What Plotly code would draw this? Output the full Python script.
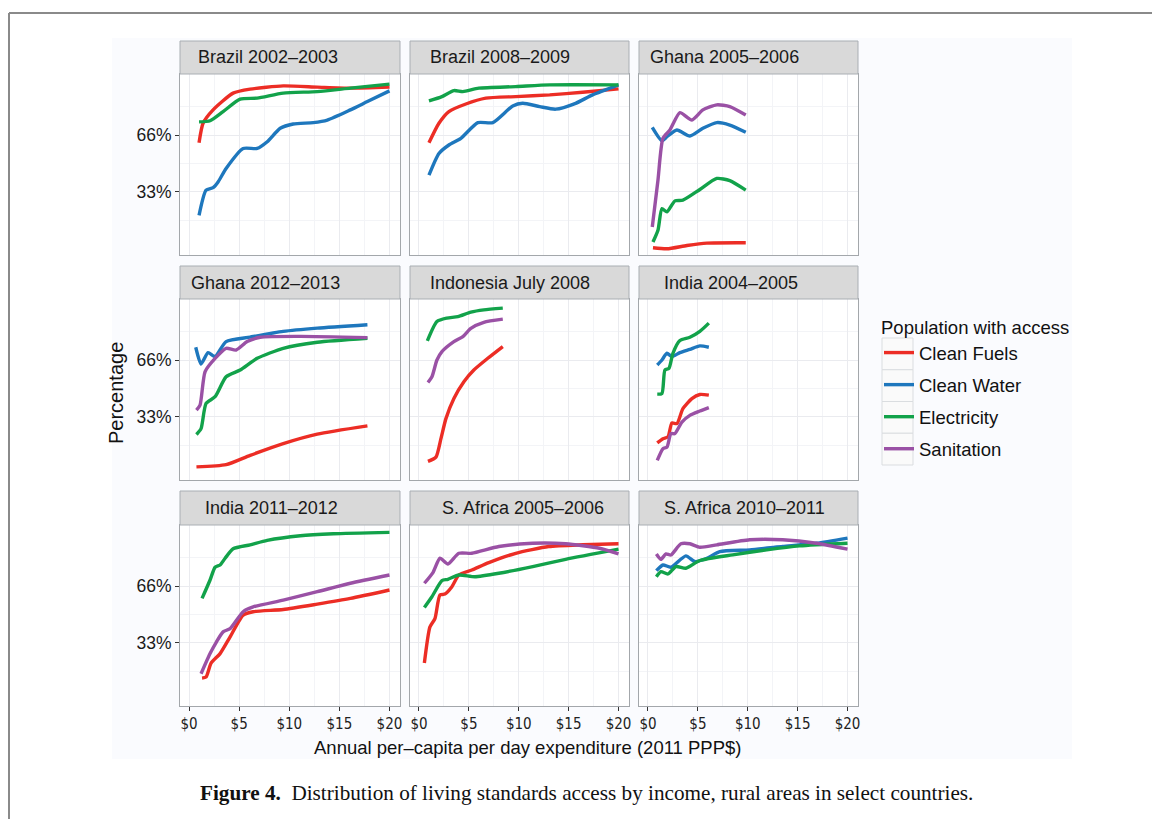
import plotly.graph_objects as go

W, H = 1152, 819

# ---------------- data ----------------
PANELS = ["Brazil 2002–2003", "Brazil 2008–2009", "Ghana 2005–2006",
          "Ghana 2012–2013", "Indonesia July 2008", "India 2004–2005",
          "India 2011–2012", "S. Africa 2005–2006", "S. Africa 2010–2011"]
SERIES = ["Clean Fuels", "Clean Water", "Electricity", "Sanitation"]
COLORS = ["#EC2D25", "#1E77BD", "#12A24A", "#9A51A5"]
X_TICKS = [0, 5, 10, 15, 20]
X_TICK_LABELS = ["$0", "$5", "$10", "$15", "$20"]
Y_TICKS = [33, 66]
Y_TICK_LABELS = ["33%", "66%"]

# Brazil 2002–2003
br02_fuels_x = [1.0, 1.4, 2.4, 4.4, 6.1, 9.4, 12.8, 16.1, 20]
br02_fuels_y = [61.5, 72.8, 80.6, 90.3, 92.6, 94.5, 93.8, 93.2, 93.8]
br02_water_x = [1.0, 1.7, 2.4, 2.9, 3.7, 5.4, 6.8, 7.8, 9.1, 10.4, 12.4, 13.8, 16.1, 17.8, 20]
br02_water_y = [19.4, 34, 35.5, 38.8, 46.6, 58.2, 58.2, 62.1, 69.9, 72.4, 73.2, 74.7, 80.6, 85.4, 91.6]
br02_elec_x = [1.0, 2.1, 3.4, 5.1, 6.8, 9.4, 12.8, 16.1, 20]
br02_elec_y = [73.6, 74.3, 79.6, 86.8, 87.4, 90.3, 91.2, 93.2, 95.5]

# Brazil 2008–2009
br08_fuels_x = [1.0, 2.0, 3.0, 4.7, 6.7, 9.7, 13.1, 16.4, 20]
br08_fuels_y = [61.5, 72.8, 79.6, 84, 87.4, 88.3, 89.3, 90.8, 92.8]
br08_water_x = [1.0, 2.0, 3.0, 4.2, 5.9, 7.4, 9.4, 10.4, 12.1, 13.7, 15.7, 17.4, 20]
br08_water_y = [42.7, 55.3, 60.2, 64.1, 73.2, 73.2, 82.9, 84.4, 82.5, 81, 84.4, 89.3, 95.1]
br08_elec_x = [1.0, 2.3, 3.5, 4.4, 6.0, 9.7, 13.1, 20]
br08_elec_y = [85.8, 88.3, 91.8, 91.2, 93.2, 94.1, 95.1, 95.1]

# Ghana 2005–2006
gh05_fuels_x = [0.5, 1.9, 3.9, 5.9, 9.8]
gh05_fuels_y = [0.6, 0.0, 1.9, 3.3, 3.5]
gh05_water_x = [0.43, 1.4, 1.9, 2.9, 4.2, 5.5, 6.9, 8.2, 9.8]
gh05_water_y = [70.5, 62.7, 65, 68.9, 65.4, 69.9, 73.2, 71.8, 67.6]
gh05_elec_x = [0.5, 1.0, 1.4, 1.9, 2.7, 3.5, 5.2, 6.9, 8.2, 9.8]
gh05_elec_y = [3.9, 10.7, 23.3, 21.4, 27.8, 28.2, 34.4, 40.8, 39.5, 34]
gh05_san_x = [0.43, 1.0, 1.5, 2.2, 3.2, 4.4, 5.5, 6.9, 8.2, 9.8]
gh05_san_y = [12.6, 39.8, 64.1, 68.9, 79, 74.7, 80.6, 83.5, 82.5, 77.6]

# Ghana 2012–2013
gh12_fuels_x = [0.74, 3.7, 6.1, 9.4, 12.8, 17.8]
gh12_fuels_y = [4, 5.3, 10.7, 17.5, 23, 27.8]
gh12_water_x = [0.67, 1.2, 1.9, 2.6, 3.7, 6.1, 9.4, 12.8, 17.8]
gh12_water_y = [73.4, 63.7, 70.3, 68, 76.7, 79.3, 82.6, 84.5, 86.5]
gh12_elec_x = [0.74, 1.2, 1.7, 2.6, 3.7, 5.1, 6.8, 9.4, 12.8, 17.8]
gh12_elec_y = [22.8, 26.2, 40.8, 44.7, 56.3, 60.2, 67, 72.8, 76.3, 78.6]
gh12_san_x = [0.74, 1.1, 1.6, 2.6, 3.7, 4.7, 5.8, 7.1, 11.1, 17.8]
gh12_san_y = [36.9, 39.8, 59.2, 66.9, 72.8, 71.8, 76.7, 79.2, 79.7, 79]

# Indonesia July 2008
id08_fuels_x = [0.9, 1.7, 2.2, 2.7, 3.5, 4.5, 5.5, 6.9, 8.4]
id08_fuels_y = [7.2, 9.7, 20.4, 32, 43.7, 53.4, 60.2, 67, 73.8]
id08_elec_x = [0.84, 1.8, 2.8, 3.9, 5.2, 6.5, 8.4]
id08_elec_y = [77.1, 88.3, 90.3, 91.2, 93.8, 95.1, 96.1]
id08_san_x = [0.9, 1.3, 1.8, 2.3, 3.5, 4.4, 5.2, 6.5, 8.4]
id08_san_y = [53, 56.3, 66, 70.9, 76.7, 79.6, 84.4, 87.9, 89.7]

# India 2004–2005
in04_fuels_x = [0.93, 1.5, 2.0, 2.4, 2.9, 3.5, 4.4, 5.2, 6.1]
in04_fuels_y = [17.9, 20.4, 21.4, 29.5, 29.1, 37.8, 43.6, 46, 45.6]
in04_water_x = [0.93, 1.4, 1.9, 2.4, 3.2, 4.2, 5.2, 6.1]
in04_water_y = [63.1, 66, 69.9, 68, 70.3, 72.2, 74.2, 73.4]
in04_elec_x = [0.93, 1.4, 1.7, 2.1, 2.5, 3.2, 4.2, 5.2, 6.1]
in04_elec_y = [46.2, 46.6, 60.2, 61.1, 69.9, 77.3, 79.2, 82.6, 87.4]
in04_san_x = [0.93, 1.5, 1.9, 2.3, 2.7, 3.4, 4.2, 5.2, 6.1]
in04_san_y = [7.8, 14.6, 15.5, 23.3, 23.3, 30, 33.9, 36.4, 38.4]

# India 2011–2012
in11_fuels_x = [1.3, 1.7, 2.2, 3.1, 4.1, 5.4, 6.4, 9.4, 12.8, 16.1, 20]
in11_fuels_y = [12.6, 13.2, 21.3, 26.8, 36.5, 49.1, 51.1, 52.4, 55.5, 58.8, 63.7]
in11_elec_x = [1.3, 2.1, 2.6, 3.1, 3.6, 4.4, 6.1, 7.8, 11.1, 14.4, 20]
in11_elec_y = [58.8, 69.5, 76.9, 78.2, 82.1, 87.6, 89.9, 92.5, 95.2, 96.3, 97.1]
in11_san_x = [1.2, 2.1, 2.7, 3.4, 4.1, 5.4, 6.4, 9.4, 12.8, 16.1, 20]
in11_san_y = [15.1, 26.8, 33.2, 39.4, 41.3, 51.1, 53.9, 57.8, 62.7, 67.6, 72.4]

# S. Africa 2005–2006
sa05_fuels_x = [0.54, 1.1, 1.6, 2.1, 2.6, 3.3, 4.0, 5.3, 7.0, 9.7, 13.0, 16.4, 20]
sa05_fuels_y = [21.3, 42.3, 47.1, 60.8, 61.3, 65.6, 72.4, 75.3, 79.6, 85, 88.9, 89.9, 90.5]
sa05_elec_x = [0.54, 1.3, 2.3, 2.9, 4.0, 5.6, 8.0, 11.4, 14.7, 20]
sa05_elec_y = [53.6, 59.8, 69.1, 69.9, 72.4, 71.4, 73.4, 77.3, 81.5, 87.4]
sa05_san_x = [0.54, 1.4, 2.1, 2.9, 4.0, 5.3, 8.0, 11.4, 14.7, 18.1, 20]
sa05_san_y = [67.6, 73.8, 82.1, 78.8, 85, 85, 88.9, 90.8, 90.5, 87.9, 84.6]

# S. Africa 2010–2011
sa10_water_x = [0.84, 1.5, 2.3, 3.8, 4.7, 5.9, 7.2, 10.2, 13.5, 16.9, 20]
sa10_water_y = [74.9, 78.2, 76.9, 83.5, 80.2, 82.1, 86, 87, 88.9, 90.8, 93.8]
sa10_elec_x = [0.84, 1.3, 2.0, 2.8, 3.8, 5.2, 8.5, 11.9, 15.2, 20]
sa10_elec_y = [71.4, 74.3, 73, 77.3, 76.3, 80.8, 84.1, 87, 89.3, 90.8]
sa10_san_x = [0.84, 1.3, 1.8, 2.3, 3.3, 4.2, 5.2, 6.9, 10.2, 13.5, 16.9, 20]
sa10_san_y = [84.6, 81.5, 84.6, 84, 90.5, 90.5, 88.5, 89.9, 92.8, 92.8, 90.8, 87.4]

# panel index -> list of (series index, x, y)
PANEL_DATA = [
    [(0, br02_fuels_x, br02_fuels_y), (1, br02_water_x, br02_water_y), (2, br02_elec_x, br02_elec_y)],
    [(0, br08_fuels_x, br08_fuels_y), (1, br08_water_x, br08_water_y), (2, br08_elec_x, br08_elec_y)],
    [(0, gh05_fuels_x, gh05_fuels_y), (1, gh05_water_x, gh05_water_y), (2, gh05_elec_x, gh05_elec_y),
     (3, gh05_san_x, gh05_san_y)],
    [(0, gh12_fuels_x, gh12_fuels_y), (1, gh12_water_x, gh12_water_y), (2, gh12_elec_x, gh12_elec_y),
     (3, gh12_san_x, gh12_san_y)],
    [(0, id08_fuels_x, id08_fuels_y), (2, id08_elec_x, id08_elec_y), (3, id08_san_x, id08_san_y)],
    [(0, in04_fuels_x, in04_fuels_y), (1, in04_water_x, in04_water_y), (2, in04_elec_x, in04_elec_y),
     (3, in04_san_x, in04_san_y)],
    [(0, in11_fuels_x, in11_fuels_y), (2, in11_elec_x, in11_elec_y), (3, in11_san_x, in11_san_y)],
    [(0, sa05_fuels_x, sa05_fuels_y), (2, sa05_elec_x, sa05_elec_y), (3, sa05_san_x, sa05_san_y)],
    [(1, sa10_water_x, sa10_water_y), (2, sa10_elec_x, sa10_elec_y), (3, sa10_san_x, sa10_san_y)],
]

# ---------------- layout geometry (pixels) ----------------
COLS = [(180, 400), (410, 629), (639, 858)]
ROWS = [(74, 255), (299, 480), (525, 706)]
STRIPS = [(41, 74), (266, 299), (491, 525)]
STRIP_TEXT_X = [268, 499.5, 724, 265.3, 509.5, 730.5, 271.3, 523, 744]


def fx(px):
    return px / W


def fy(py):
    return 1 - py / H


fig = go.Figure()
shapes = []
annotations = []

# page frame and chart background
shapes.append(dict(type="rect", xref="paper", yref="paper", x0=fx(112), x1=fx(1072), y0=fy(759), y1=fy(38),
                   fillcolor="#FAFBFE", line=dict(width=0), layer="below"))
shapes.append(dict(type="line", xref="paper", yref="paper", x0=fx(9), x1=fx(1152), y0=fy(13), y1=fy(13),
                   line=dict(color="#8A8A8A", width=2)))
shapes.append(dict(type="line", xref="paper", yref="paper", x0=fx(9), x1=fx(9), y0=fy(13), y1=fy(819),
                   line=dict(color="#8A8A8A", width=2)))

seen = set()
for p, name in enumerate(PANELS):
    r, c = divmod(p, 3)
    n = p + 1
    xa = "xaxis" if n == 1 else f"xaxis{n}"
    ya = "yaxis" if n == 1 else f"yaxis{n}"
    xr = "x" if n == 1 else f"x{n}"
    yr = "y" if n == 1 else f"y{n}"
    (cx0, cx1), (ry0, ry1) = COLS[c], ROWS[r]
    # panel white background
    shapes.append(dict(type="rect", xref="paper", yref="paper", x0=fx(cx0), x1=fx(cx1), y0=fy(ry1), y1=fy(ry0),
                       fillcolor="#FFFFFF", line=dict(width=0), layer="below"))
    # strip
    sy0, sy1 = STRIPS[r]
    shapes.append(dict(type="rect", xref="paper", yref="paper", x0=fx(cx0), x1=fx(cx1), y0=fy(sy1), y1=fy(sy0),
                       fillcolor="#D9D9D9", line=dict(color="#A9AEB3", width=1)))
    annotations.append(dict(text=name, xref="paper", yref="paper", x=fx(STRIP_TEXT_X[p]), y=fy((sy0 + sy1) / 2),
                            xanchor="center", yanchor="middle", showarrow=False,
                            font=dict(family="Liberation Sans, Arial", size=18, color="#1A1A1A")))

    fig.layout[xa] = dict(domain=[fx(cx0), fx(cx1)], range=[-0.9, 21.05], anchor=yr,
                          tickvals=X_TICKS, ticktext=X_TICK_LABELS,
                          showticklabels=(r == 2), ticks="outside" if r == 2 else "",
                          ticklen=4, tickcolor="#333333", tickwidth=1,
                          tickfont=dict(family="DejaVu Sans Condensed, Liberation Sans", size=15, color="#222222"),
                          showgrid=True, gridcolor="#EAEBEF", gridwidth=1,
                          minor=dict(tickvals=[2.5, 7.5, 12.5, 17.5], showgrid=True, gridcolor="#F3F4F7",
                                     gridwidth=1, ticks=""),
                          showline=True, mirror=True, linecolor="#A3A7AB", linewidth=1,
                          zeroline=False, fixedrange=True)
    fig.layout[ya] = dict(domain=[fy(ry1), fy(ry0)], range=[-3.6, 101.4], anchor=xr,
                          tickvals=Y_TICKS, ticktext=Y_TICK_LABELS,
                          showticklabels=(c == 0), ticks="outside" if c == 0 else "",
                          ticklen=4, tickcolor="#333333", tickwidth=1,
                          tickfont=dict(family="Liberation Sans, Arial", size=17.5, color="#1A1A1A"),
                          showgrid=True, gridcolor="#EAEBEF", gridwidth=1,
                          minor=dict(tickvals=[16.5, 49.5, 82.5], showgrid=True, gridcolor="#F3F4F7",
                                     gridwidth=1, ticks=""),
                          showline=True, mirror=True, linecolor="#A3A7AB", linewidth=1,
                          zeroline=False, fixedrange=True)

    for s, xs, ys in PANEL_DATA[p]:
        show = s not in seen
        seen.add(s)
        fig.add_trace(go.Scatter(x=xs, y=ys, xaxis=xr, yaxis=yr, mode="lines", name=SERIES[s],
                                 legendgroup=SERIES[s], showlegend=show, legendrank=s + 1,
                                 line=dict(color=COLORS[s], width=3.4, shape="spline", smoothing=0.6),
                                 hoverinfo="skip"))

# legend key boxes
for i in range(4):
    y0 = 338 + i * 31.75
    shapes.append(dict(type="rect", xref="paper", yref="paper", x0=fx(882), x1=fx(913), y0=fy(y0 + 31.75),
                       y1=fy(y0), fillcolor="#FAFAFA", line=dict(color="#DADDE0", width=1), layer="below"))

# axis titles
annotations.append(dict(text="Percentage", xref="paper", yref="paper", x=fx(116), y=fy(393), textangle=-90,
                        xanchor="center", yanchor="middle", showarrow=False,
                        font=dict(family="Liberation Sans, Arial", size=20, color="#111111")))
annotations.append(dict(text="Annual per–capita per day expenditure (2011 PPP$)", xref="paper", yref="paper",
                        x=fx(527.5), y=fy(747), xanchor="center", yanchor="middle", showarrow=False,
                        font=dict(family="Liberation Sans, Arial", size=18.5, color="#111111")))
# caption
annotations.append(dict(text="<b>Figure 4.</b>  Distribution of living standards access by income, rural areas in select countries.",
                        xref="paper", yref="paper", x=fx(586), y=fy(793), xanchor="center", yanchor="middle",
                        showarrow=False, font=dict(family="Liberation Serif, Times New Roman", size=21.2,
                                                   color="#111111")))

fig.update_layout(
    width=W, height=H,
    margin=dict(l=0, r=0, t=0, b=0, autoexpand=False),
    paper_bgcolor="#FFFFFF", plot_bgcolor="rgba(0,0,0,0)",
    shapes=shapes, annotations=annotations,
    showlegend=True,
    legend=dict(x=fx(879), y=fy(310), xanchor="left", yanchor="top", bgcolor="rgba(0,0,0,0)",
                title=dict(text="Population with access",
                           font=dict(family="Liberation Sans, Arial", size=18.5, color="#111111")),
                font=dict(family="Liberation Sans, Arial", size=18.5, color="#111111"),
                tracegroupgap=5, itemwidth=30, traceorder="grouped"),
)

fig.write_html("out.html", config={"displayModeBar": False},
               post_script="document.body.style.margin='0px';")
